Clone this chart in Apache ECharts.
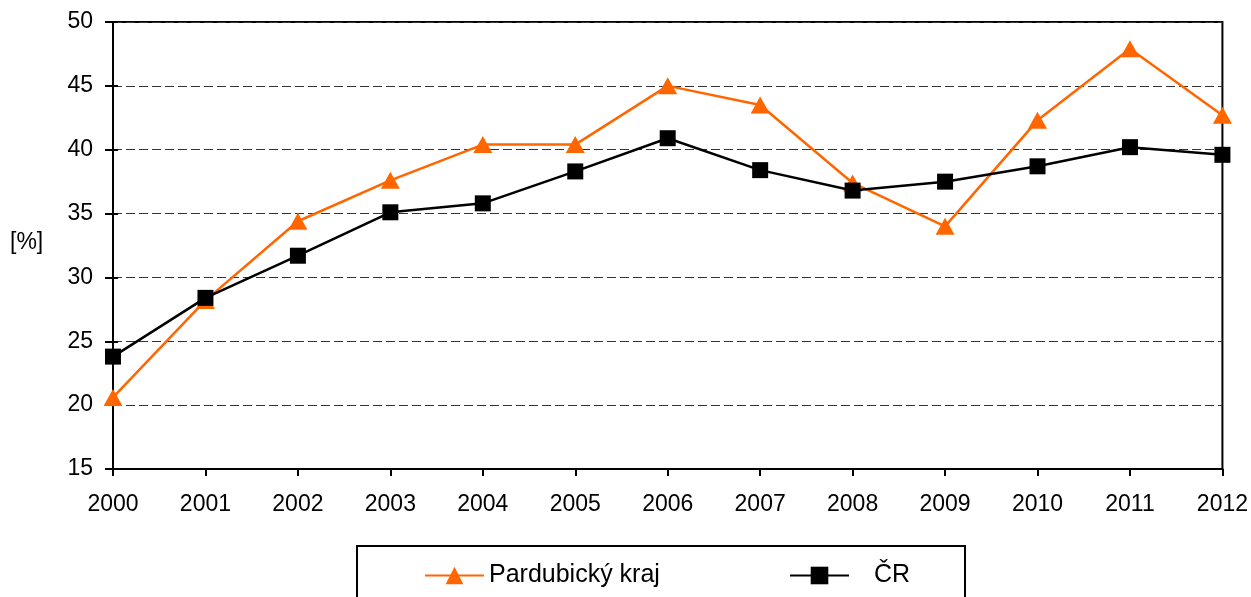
<!DOCTYPE html>
<html>
<head>
<meta charset="utf-8">
<script src="https://cdn.jsdelivr.net/npm/echarts@6/dist/echarts.min.js"></script>
<style>
  html, body { margin: 0; padding: 0; background: #fff; }
  #main { width: 1251px; height: 597px; }
</style>
</head>
<body>
<div id="main"></div>
<script>
// data
var years = ['2000', '2001', '2002', '2003', '2004', '2005', '2006', '2007', '2008', '2009', '2010', '2011', '2012'];
var pardubicky = [20.6, 28.2, 34.4, 37.6, 40.4, 40.4, 45.0, 43.5, 37.4, 34.0, 42.3, 47.9, 42.7];
var cr = [23.8, 28.4, 31.7, 35.1, 35.8, 38.3, 40.9, 38.4, 36.8, 37.5, 38.7, 40.2, 39.6];
var seriesNames = ['Pardubický kraj', 'ČR'];

var font = 'Liberation Sans, Arial, sans-serif';
var chart = echarts.init(document.getElementById('main'));

var legendBase = {
  top: 558,
  itemWidth: 59,
  itemHeight: 22,
  z: 5,
  textStyle: { fontFamily: font, fontSize: 25, color: '#000' }
};

var option = {
  animation: false,
  backgroundColor: '#fff',
  grid: {
    left: 113, right: 28, top: 22, bottom: 128,
    show: true, borderColor: '#000', borderWidth: 2
  },
  graphic: [
    {
      type: 'rect',
      shape: { x: 357, y: 546, width: 608, height: 80 },
      style: { fill: '#fff', stroke: '#000', lineWidth: 2 },
      z: 0
    },
    {
      type: 'text',
      left: 10, top: 231,
      style: { text: '[%]', font: '23px ' + font, fill: '#000' }
    }
  ],
  legend: [
    Object.assign({}, legendBase, { left: 419, data: [seriesNames[0]] }),
    Object.assign({}, legendBase, {
      left: 784,
      data: [{ name: seriesNames[1], textStyle: { padding: [0, 0, 0, 20] } }]
    })
  ],
  xAxis: {
    type: 'category',
    data: years,
    boundaryGap: false,
    axisLine: { lineStyle: { color: '#000', width: 2 } },
    axisTick: { show: true, length: 7, lineStyle: { color: '#000', width: 2 } },
    axisLabel: { fontFamily: font, fontSize: 23, color: '#000', margin: 24 },
    splitLine: { show: false }
  },
  yAxis: [
    {
      type: 'value',
      min: 15, max: 50, interval: 5,
      axisLine: { show: true, lineStyle: { color: '#000', width: 2 } },
      axisTick: { show: true, length: 8, lineStyle: { color: '#000', width: 2 } },
      axisLabel: { fontFamily: font, fontSize: 23, color: '#000', margin: 20 },
      splitLine: { show: true, lineStyle: { color: '#333', width: 1, type: [9, 4] } }
    },
    {
      // inner half of the crossing ticks
      type: 'value',
      min: 15, max: 50, interval: 5,
      position: 'left',
      axisLine: { show: false },
      axisTick: { show: true, inside: true, length: 5, lineStyle: { color: '#000', width: 2 } },
      axisLabel: { show: false },
      splitLine: { show: false }
    }
  ],
  series: [
    {
      name: seriesNames[0],
      type: 'line',
      data: pardubicky,
      color: '#FF6600',
      lineStyle: { color: '#FF6600', width: 2.5 },
      itemStyle: { color: '#FF6600' },
      symbol: 'triangle',
      symbolSize: [19, 17],
      z: 2
    },
    {
      name: seriesNames[1],
      type: 'line',
      data: cr,
      color: '#000',
      lineStyle: { color: '#000', width: 2.5 },
      itemStyle: { color: '#000' },
      symbol: 'rect',
      symbolSize: 16,
      z: 3
    }
  ]
};

chart.setOption(option);
</script>
</body>
</html>
